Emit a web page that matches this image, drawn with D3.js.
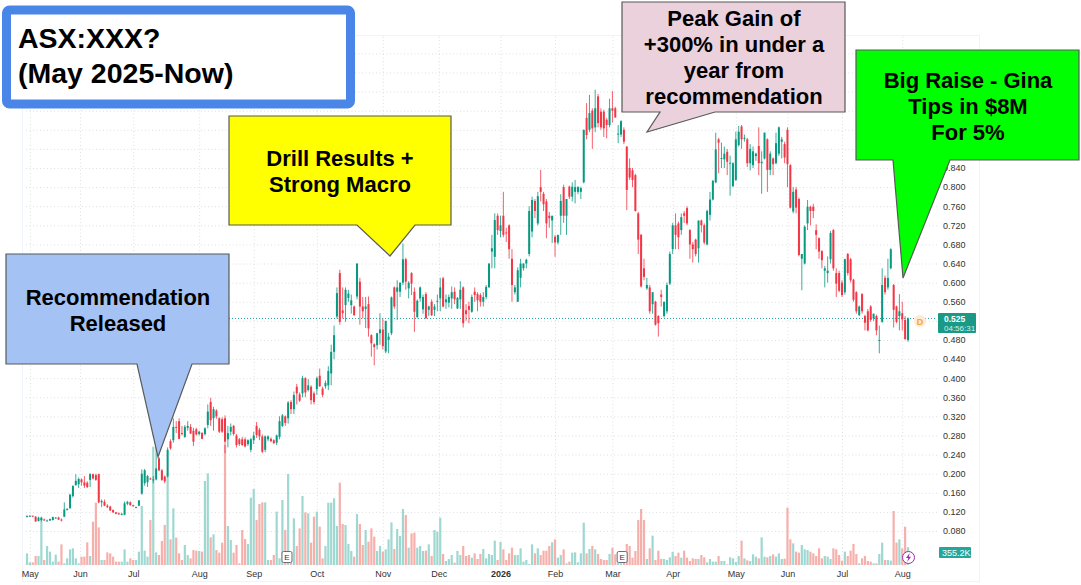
<!DOCTYPE html>
<html>
<head>
<meta charset="utf-8">
<style>
  html, body { margin: 0; padding: 0; background: #fff; }
  svg { display: block; }
  text { font-family: "Liberation Sans", Arial, sans-serif; }
  .axis text { font-size: 9px; fill: #333; }
  .axis .domain { display: none; }
  .axis line { stroke: #dcdfe3; stroke-dasharray: 1 2.5; }
  .callout text { font-size: 22px; font-weight: bold; fill: #000; text-anchor: middle; }
  .callout path { stroke: #595959; stroke-width: 1.2; }
  .soft { filter: blur(0.3px); }
</style>
</head>
<body>
<div id="chart"></div>
<script src="https://cdn.jsdelivr.net/npm/d3@7"></script>
<script>
// daily candles: open, high, low, close
var candles = [
[.110,.113,.109,.111],[.111,.113,.110,.112],[.112,.112,.110,.111],[.110,.111,.099,.100],[.101,.110,.100,.108],
[.103,.110,.100,.108],[.104,.106,.102,.103],[.102,.104,.101,.102],[.102,.106,.101,.105],[.103,.110,.102,.109],
[.108,.109,.107,.108],[.108,.110,.103,.104],[.104,.106,.100,.103],[.110,.140,.109,.125],[.125,.128,.123,.126],
[.128,.158,.126,.156],[.153,.176,.150,.174],[.176,.199,.175,.185],[.178,.192,.170,.189],[.188,.190,.175,.182],
[.182,.195,.170,.175],[.181,.184,.170,.172],[.187,.201,.172,.199],[.199,.200,.188,.190],[.197,.200,.185,.187],
[.199,.200,.138,.140],[.140,.146,.130,.143],[.141,.146,.132,.133],[.133,.136,.128,.130],[.131,.133,.122,.123],
[.124,.125,.118,.119],[.119,.120,.115,.116],[.117,.119,.114,.115],[.115,.118,.113,.116],[.114,.142,.113,.138],
[.137,.143,.134,.141],[.140,.142,.133,.134],[.134,.135,.131,.132],[.130,.131,.128,.130],[.133,.145,.132,.144],
[.158,.209,.156,.200],[.180,.210,.175,.207],[.182,.197,.172,.195],[.190,.192,.187,.189],[.186,.195,.180,.188],
[.188,.256,.186,.211],[.232,.235,.205,.207],[.207,.210,.185,.187],[.194,.196,.180,.184],[.194,.255,.192,.250],
[.268,.272,.250,.253],[.270,.316,.265,.298],[.298,.310,.285,.296],[.310,.316,.272,.273],[.285,.300,.280,.283],
[.277,.302,.275,.298],[.296,.310,.290,.300],[.298,.304,.283,.284],[.290,.296,.258,.267],[.293,.296,.280,.282],
[.283,.290,.280,.288],[.285,.287,.272,.273],[.283,.297,.280,.295],[.302,.345,.295,.330],[.350,.359,.300,.312],
[.316,.340,.290,.335],[.332,.335,.315,.320],[.316,.318,.285,.288],[.314,.318,.285,.288],[.316,.322,.243,.267],
[.272,.300,.255,.285],[.288,.305,.280,.298],[.300,.302,.280,.283],[.280,.283,.255,.260],[.272,.275,.258,.262],
[.272,.277,.258,.260],[.272,.276,.255,.257],[.262,.272,.258,.270],[.250,.275,.245,.272],[.270,.288,.262,.280],
[.300,.308,.275,.281],[.292,.296,.270,.278],[.278,.282,.243,.246],[.250,.280,.245,.278],[.272,.280,.268,.278],
[.273,.276,.266,.268],[.270,.272,.262,.264],[.265,.282,.260,.280],[.277,.320,.272,.310],[.300,.325,.298,.322],
[.320,.322,.300,.306],[.316,.352,.305,.349],[.350,.354,.325,.335],[.335,.372,.325,.365],[.382,.388,.345,.368],
[.366,.370,.350,.353],[.368,.405,.360,.400],[.400,.402,.360,.370],[.375,.398,.372,.385],[.382,.385,.345,.354],
[.368,.372,.345,.350],[.377,.403,.365,.400],[.405,.420,.382,.383],[.378,.382,.360,.365],[.383,.395,.378,.390],
[.385,.425,.375,.415],[.410,.470,.385,.455],[.455,.510,.440,.490],[.529,.590,.525,.578],[.620,.627,.512,.518],
[.542,.590,.525,.536],[.553,.590,.518,.585],[.568,.585,.560,.577],[.553,.575,.535,.563],[.550,.552,.530,.532],
[.571,.640,.565,.640],[.602,.610,.512,.550],[.550,.570,.525,.540],[.545,.570,.505,.550],[.555,.571,.487,.504],
[.490,.492,.445,.473],[.471,.473,.427,.465],[.469,.495,.460,.494],[.494,.536,.470,.502],[.502,.525,.460,.467],
[.456,.520,.452,.520],[.480,.495,.452,.487],[.494,.571,.490,.569],[.590,.592,.545,.550],[.581,.605,.522,.590],
[.581,.600,.570,.600],[.600,.682,.595,.649],[.649,.652,.585,.602],[.588,.603,.567,.600],[.620,.622,.574,.598],
[.581,.590,.497,.539],[.528,.565,.525,.562],[.567,.592,.560,.590],[.544,.575,.535,.570],[.576,.580,.525,.525],
[.543,.552,.530,.550],[.560,.565,.530,.532],[.543,.555,.530,.550],[.560,.575,.540,.562],[.567,.610,.540,.590],
[.609,.612,.548,.550],[.559,.575,.545,.565],[.558,.575,.548,.570],[.567,.592,.545,.580],[.581,.590,.555,.565],
[.546,.570,.545,.568],[.565,.603,.545,.585],[.590,.592,.506,.515],[.542,.555,.520,.534],[.551,.560,.515,.543],
[.539,.575,.537,.570],[.581,.590,.560,.574],[.576,.580,.540,.563],[.574,.578,.550,.560],[.560,.580,.550,.570],
[.570,.595,.565,.591],[.590,.640,.590,.640],[.665,.700,.630,.672],[.654,.745,.630,.731],[.740,.745,.700,.710],
[.708,.740,.695,.720],[.740,.790,.695,.700],[.705,.715,.685,.703],[.720,.722,.650,.670],[.650,.670,.560,.595],
[.580,.595,.575,.590],[.560,.632,.560,.626],[.610,.650,.590,.640],[.630,.640,.625,.640],[.640,.650,.630,.648],
[.660,.760,.655,.750],[.707,.780,.695,.773],[.771,.775,.735,.750],[.724,.790,.720,.781],[.800,.836,.770,.790],
[.786,.790,.750,.764],[.770,.775,.693,.724],[.740,.748,.715,.735],[.730,.740,.683,.740],[.696,.700,.654,.684],
[.684,.700,.680,.700],[.740,.785,.700,.771],[.800,.805,.725,.740],[.740,.775,.700,.775],[.801,.803,.775,.780],
[.780,.810,.770,.801],[.790,.815,.766,.800],[.790,.802,.785,.800],[.790,.801,.775,.798],[.810,.920,.808,.920],
[.945,.976,.900,.909],[.920,.993,.915,.955],[.960,.965,.880,.923],[.925,1.004,.915,.965],[.990,.995,.925,.934],
[.958,.965,.920,.925],[.958,.962,.905,.923],[.941,.945,.902,.930],[.930,.985,.925,.965],[.965,1.001,.935,.960],
[.965,.968,.945,.946],[.910,.930,.892,.912],[.910,.940,.905,.938],[.920,.925,.890,.895],[.885,.885,.752,.794],
[.840,.860,.815,.820],[.835,.840,.800,.815],[.825,.828,.749,.750],[.745,.748,.660,.690],[.700,.702,.590,.592],
[.630,.650,.605,.612],[.588,.610,.585,.595],[.590,.595,.535,.540],[.555,.580,.535,.580],[.560,.562,.510,.512],
[.530,.532,.487,.515],[.575,.585,.550,.570],[.530,.560,.527,.560],[.540,.600,.535,.595],[.598,.665,.595,.660],
[.670,.725,.660,.720],[.720,.745,.670,.700],[.724,.728,.670,.695],[.710,.745,.700,.737],[.745,.750,.725,.740],
[.756,.760,.720,.724],[.710,.712,.650,.680],[.680,.685,.642,.670],[.690,.692,.655,.660],[.672,.730,.642,.730],
[.730,.732,.705,.720],[.720,.724,.680,.684],[.680,.753,.678,.750],[.742,.790,.730,.774],[.774,.815,.772,.813],
[.810,.914,.808,.879],[.900,.903,.829,.893],[.860,.893,.840,.861],[.858,.885,.840,.870],[.874,.880,.825,.853],
[.850,.866,.782,.851],[.802,.852,.800,.850],[.815,.916,.813,.900],[.888,.928,.885,.916],[.927,.930,.880,.900],
[.902,.910,.895,.903],[.900,.903,.842,.850],[.850,.890,.835,.880],[.846,.885,.840,.875],[.865,.872,.855,.870],
[.886,.925,.825,.850],[.850,.875,.786,.853],[.860,.914,.858,.914],[.900,.902,.790,.836],[.836,.875,.825,.870],
[.860,.862,.825,.848],[.850,.914,.848,.892],[.870,.927,.865,.925],[.895,.905,.860,.900],[.890,.895,.850,.862],
[.920,.925,.800,.848],[.846,.848,.755,.757],[.749,.800,.745,.790],[.795,.800,.745,.757],[.775,.778,.655,.658],
[.650,.660,.584,.660],[.640,.720,.638,.717],[.724,.773,.710,.759],[.759,.761,.720,.750],[.759,.765,.735,.750],
[.710,.722,.670,.700],[.693,.695,.650,.665],[.666,.668,.630,.647],[.625,.635,.590,.630],[.620,.655,.600,.625],
[.649,.708,.640,.704],[.710,.712,.625,.630],[.620,.630,.570,.598],[.620,.625,.580,.583],[.600,.605,.570,.574],
[.580,.650,.575,.649],[.660,.662,.615,.620],[.649,.652,.600,.605],[.606,.608,.560,.564],[.580,.582,.535,.540],
[.532,.552,.530,.550],[.576,.578,.535,.540],[.530,.533,.500,.516],[.540,.545,.498,.500],[.550,.553,.518,.522],
[.525,.535,.520,.535],[.530,.533,.490,.500],[.479,.510,.452,.480],[.518,.630,.516,.595],[.610,.615,.575,.580],
[.590,.650,.585,.610],[.630,.672,.628,.670],[.595,.597,.506,.543],[.550,.552,.515,.518],[.530,.576,.500,.540],
[.536,.560,.500,.523],[.522,.530,.480,.482],[.480,.527,.476,.525]
];

// volume per candle, thousands of shares
var volumes = [
233,53,53,180,180,933,100,380,267,67,207,67,413,33,133,313,333,133,33,
167,167,453,180,867,1247,753,100,100,253,233,167,67,67,67,313,67,133,100,100,
267,1180,287,167,900,2367,253,200,480,800,1767,513,1133,547,233,100,400,200,133,300,
287,280,267,1680,1833,553,613,300,247,447,2400,780,500,247,400,33,700,520,420,1347,
1520,900,1220,1253,1253,100,100,200,1067,133,1300,700,1820,113,933,380,733,1380,1053,
1033,447,967,1067,767,133,380,1247,1247,1333,780,1647,820,800,420,280,167,1020,820,400,700,467,
733,567,280,380,267,313,513,853,320,720,580,1120,1000,347,633,647,347,380,280,287,
413,180,700,667,947,220,80,120,200,47,280,200,380,180,200,147,233,120,220,320,
133,220,200,487,100,460,313,100,233,347,200,200,333,67,100,20,413,233,333,200,
287,287,380,453,513,147,200,313,33,67,247,253,53,233,847,233,320,380,313,220,
120,100,100,220,347,213,47,33,67,420,380,147,280,900,1120,900,120,333,587,100,
287,120,120,100,153,260,180,247,147,287,147,80,133,120,120,200,153,53,120,67,
67,180,80,80,13,153,133,60,180,487,133,93,80,213,167,133,553,167,153,180,
213,167,233,120,127,1147,513,433,267,247,400,313,300,267,233,180,333,133,180,
167,120,333,313,200,87,267,180,287,420,220,33,133,180,80,67,33,33,220,447,
100,100,87,1080,447,513,333,767,355.2
];

var monthLabels = ["May","Jun","Jul","Aug","Sep","Oct","Nov","Dec","2026","Feb","Mar","Apr","May","Jun","Jul","Aug"];
var monthIndex = [1,18.5,37,60,79,101,124,143.5,165,184,204,225,247,265,284,305];
var priceTicks = [0.08,0.12,0.16,0.2,0.24,0.28,0.32,0.36,0.4,0.44,0.48,0.52,0.56,0.6,0.64,0.68,0.72,0.76,0.8,0.84,0.88,0.92,0.96,1,1.04,1.08];
// tick labels that sit behind a badge or a box in the picture stay blank
var hiddenPriceLabels = [0.52,0.88,0.92,0.96,1,1.04,1.08];
var earningsIndex = [90.6,207.4];
var lastPrice = 0.525;
var lastVolume = "355.2K";
var countdown = "04:56:31";

var svgWidth = 1081;
var svgHeight = 585;
var upColor = "#089981";
var downColor = "#f23645";

var svg = d3.select("#chart").append("svg")
  .attr("width", svgWidth)
  .attr("height", svgHeight);

// scales
var xScale = d3.scaleLinear().domain([0, candles.length - 1]).range([27, 908]);
var yScale = d3.scaleLinear().domain([0.08, 0.84]).range([531, 168]);
var volScale = d3.scaleLinear().domain([0, 2400]).range([565, 445]);

// pane frame
svg.append("rect")
  .attr("x", 22.5).attr("y", 35.5)
  .attr("width", 957).attr("height", 546)
  .attr("fill", "none").attr("stroke", "#f0f3fa");

// axes, the tick lines double as the dotted grid
var yAxis = d3.axisRight(yScale)
  .tickValues(priceTicks)
  .tickFormat(function(d) { return hiddenPriceLabels.indexOf(d) >= 0 ? "" : d3.format(".3f")(d); })
  .tickSize(-913)
  .tickPadding(6);
svg.append("g").attr("class", "axis")
  .attr("transform", "translate(937,0)")
  .call(yAxis);

var xAxis = d3.axisBottom(xScale)
  .tickValues(monthIndex)
  .tickFormat(function(d, i) { return monthLabels[i]; })
  .tickSize(-530)
  .tickPadding(5);
var xAxisGroup = svg.append("g").attr("class", "axis")
  .attr("transform", "translate(0,566)")
  .call(xAxis);
xAxisGroup.selectAll("text")
  .filter(function(d, i) { return monthLabels[i] === "2026"; })
  .style("font-weight", "bold");

// last price line
svg.append("line")
  .attr("x1", 22).attr("x2", 937)
  .attr("y1", yScale(lastPrice)).attr("y2", yScale(lastPrice))
  .attr("stroke", "#26a69a")
  .attr("stroke-dasharray", "1 2");

// volume bars
svg.append("g").attr("class", "soft").selectAll("rect")
  .data(volumes)
  .enter()
  .append("rect")
  .attr("x", function(d, i) { return xScale(i) - 1.1; })
  .attr("y", function(d) { return volScale(d); })
  .attr("width", 2.2)
  .attr("height", function(d) { return volScale(0) - volScale(d); })
  .attr("fill", function(d, i) {
    var c = candles[i];
    return c[3] >= c[0] ? "#9fd8d1" : "#f6b0ac";
  });

// candles
var candleGroup = svg.append("g").attr("class", "soft").selectAll("g")
  .data(candles)
  .enter()
  .append("g")
  .attr("fill", function(d) { return d[3] >= d[0] ? upColor : downColor; })
  .attr("stroke", function(d) { return d[3] >= d[0] ? upColor : downColor; });
candleGroup.append("line")
  .attr("x1", function(d, i) { return xScale(i); })
  .attr("x2", function(d, i) { return xScale(i); })
  .attr("y1", function(d) { return yScale(d[1]); })
  .attr("y2", function(d) { return yScale(d[2]); })
  .attr("stroke-width", 0.8);
candleGroup.append("rect")
  .attr("stroke", "none")
  .attr("x", function(d, i) { return xScale(i) - 1; })
  .attr("y", function(d) { return yScale(Math.max(d[0], d[3])); })
  .attr("width", 2)
  .attr("height", function(d) { return Math.max(1, Math.abs(yScale(d[0]) - yScale(d[3]))); });

// earnings markers
var eGroup = svg.append("g").selectAll("g")
  .data(earningsIndex)
  .enter()
  .append("g")
  .attr("transform", function(d) { return "translate(" + xScale(d) + ",557)"; });
eGroup.append("rect")
  .attr("x", -5).attr("y", -5.5).attr("width", 10).attr("height", 11).attr("rx", 1.5)
  .attr("fill", "#fff").attr("stroke", "#6a6d78");
eGroup.append("text")
  .attr("text-anchor", "middle").attr("y", 3)
  .attr("font-size", 8).attr("fill", "#333")
  .text("E");

// price badge
svg.append("rect")
  .attr("x", 938).attr("y", 313).attr("width", 38).attr("height", 20).attr("rx", 1)
  .attr("fill", "#1a9a86");
svg.append("text").attr("x", 944).attr("y", 322)
  .attr("font-size", 8.5).attr("font-weight", "bold").attr("fill", "#fff")
  .text(d3.format(".3f")(lastPrice));
svg.append("text").attr("x", 944).attr("y", 331)
  .attr("font-size", 8).attr("fill", "#d5efe9")
  .text(countdown);

// volume badge
svg.append("rect")
  .attr("x", 939).attr("y", 547).attr("width", 32).attr("height", 11).attr("rx", 1)
  .attr("fill", "#26a69a");
svg.append("text").attr("x", 942).attr("y", 556)
  .attr("font-size", 9).attr("fill", "#fff")
  .text(lastVolume);

// interval marker
svg.append("circle").attr("cx", 920).attr("cy", 321).attr("r", 6).attr("fill", "#fdebd3");
svg.append("text").attr("x", 920).attr("y", 324.5)
  .attr("text-anchor", "middle").attr("font-size", 9).attr("font-weight", "bold").attr("fill", "#f5a742")
  .text("D");

// lightning marker
svg.append("circle").attr("cx", 908.5).attr("cy", 557.5).attr("r", 6)
  .attr("fill", "#fff").attr("stroke", "#9c27b0");
svg.append("path")
  .attr("d", "M909.8 553 L906 558 L908.3 558 L907.2 562 L911 556.8 L908.7 556.8 Z")
  .attr("fill", "#9c27b0");

// annotation boxes drawn over the chart
var callouts = [
  { path: "M6 254H229V364H192L158 457L137 364H6Z", fill: "#a4c2f4", x: 118, lines: [["Recommendation", 305], ["Released", 331]] },
  { path: "M229 116H451V225H415L390 256L357 225H229Z", fill: "#ffff00", x: 340, lines: [["Drill Results +", 166], ["Strong Macro", 192]] },
  { path: "M622 2H845V112H715L647 132L660 112H622Z", fill: "#ead1dc", x: 734, lines: [["Peak Gain of", 26], ["+300% in under a", 52], ["year from", 78], ["recommendation", 104]] },
  { path: "M856 50H1079V160H950L903 278L893 160H856Z", fill: "#00ff00", x: 968, lines: [["Big Raise - Gina", 88], ["Tips in $8M", 114], ["For 5%", 140]] }
];
var calloutGroup = svg.append("g").selectAll("g")
  .data(callouts)
  .enter()
  .append("g")
  .attr("class", "callout");
calloutGroup.append("path")
  .attr("d", function(d) { return d.path; })
  .attr("fill", function(d) { return d.fill; });
calloutGroup.selectAll("text")
  .data(function(d) { return d.lines.map(function(l) { return { x: d.x, text: l[0], y: l[1] }; }); })
  .enter()
  .append("text")
  .attr("x", function(d) { return d.x; })
  .attr("y", function(d) { return d.y; })
  .text(function(d) { return d.text; });

// title box
svg.append("rect")
  .attr("x", 6.5).attr("y", 10).attr("width", 344).attr("height", 94).attr("rx", 3)
  .attr("fill", "#fff").attr("stroke", "#4a86e8").attr("stroke-width", 9);
svg.append("text").attr("x", 18).attr("y", 48)
  .attr("font-size", 28.5).attr("font-weight", "bold").attr("fill", "#000")
  .text("ASX:XXX?");
svg.append("text").attr("x", 18).attr("y", 83)
  .attr("font-size", 28.5).attr("font-weight", "bold").attr("fill", "#000")
  .text("(May 2025-Now)");
</script>
</body>
</html>
